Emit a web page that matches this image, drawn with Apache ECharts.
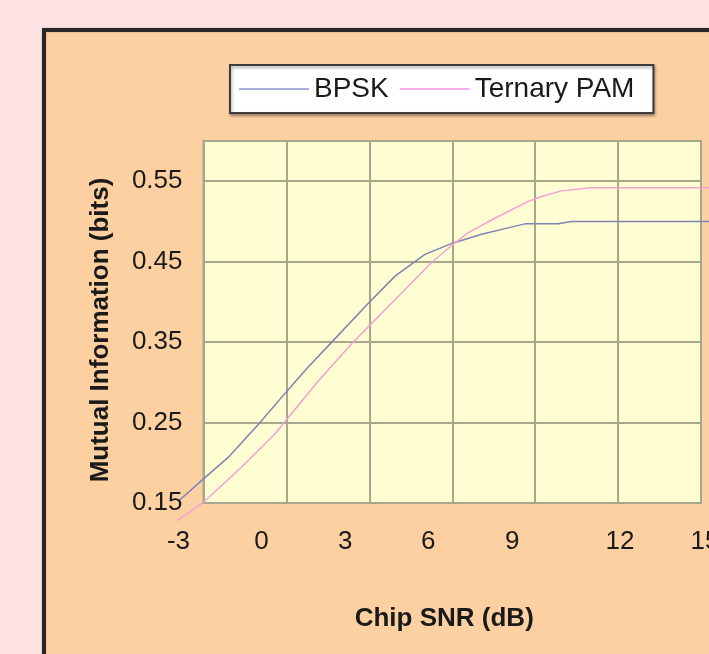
<!DOCTYPE html>
<html>
<head>
<meta charset="utf-8">
<title>Mutual Information vs Chip SNR</title>
<script src="https://cdn.jsdelivr.net/npm/echarts@6/dist/echarts.min.js"></script>
<style>
  html, body { margin: 0; padding: 0; background: #fee1e1; }
  #chart { width: 709px; height: 654px; }
</style>
</head>
<body>
<div id="chart"></div>
<script>
// Chip SNR (dB) axis ticks and mutual information (bits) axis ticks
const snrTicks = [-3, 0, 3, 6, 9, 12, 15];
const miTicks = [0.15, 0.25, 0.35, 0.45, 0.55];

// BPSK curve
const bpskSnr = [-3.85, -3.0, -2.10, -1.01, 0.04, 0.79, 1.64, 2.93, 3.93, 5.01, 6.01, 7.06, 8.02, 8.63, 9.83, 10.31, 12.0, 15.4];
const bpskMi  = [0.154, 0.180, 0.207, 0.248, 0.290, 0.319, 0.350, 0.397, 0.432, 0.459, 0.473, 0.484, 0.492, 0.497, 0.497, 0.500, 0.500, 0.500];

// Ternary PAM curve
const pamSnr = [-3.95, -3.0, -1.61, -0.41, 0.04, 1.16, 2.36, 2.93, 4.17, 5.25, 6.01, 6.58, 7.54, 8.75, 9.23, 9.95, 11.04, 15.4];
const pamMi  = [0.128, 0.151, 0.195, 0.236, 0.255, 0.302, 0.348, 0.368, 0.411, 0.449, 0.471, 0.486, 0.504, 0.525, 0.531, 0.538, 0.542, 0.542];

const seriesNames = ['BPSK', 'Ternary PAM'];

// ---- layout ----
const plot = { left: 203.5, right: 701, top: 141, bottom: 503 };
const xRange = [-3, 15], yRange = [0.15, 0.6];
// the curves run a little past the framed plot area, so they live on an
// unframed twin grid that shares the exact same scale but is wider/taller
const xPad = 2, yPad = 0.05;
const pxPerX = (plot.right - plot.left) / (xRange[1] - xRange[0]);
const pxPerY = (plot.bottom - plot.top) / (yRange[1] - yRange[0]);

// horizontal nudges (px) applied to the x tick labels
const labelNudge = { '-3': -25, '0': -25, '3': -24, '6': -24, '9': -23, '12': 2, '15': 4 };

const FONT = "'Liberation Sans', Arial, sans-serif";
const TEXT = '#1a1a1a';
const GRIDLINE = '#a7a78c';
const TICK_SIZE = 26;

const pairs = (xs, ys) => xs.map((x, i) => [x, ys[i]]);

const richLabels = {};
Object.keys(labelNudge).forEach((k, i) => {
  const s = labelNudge[k];
  richLabels['n' + i] = {
    fontFamily: FONT, fontSize: TICK_SIZE, color: TEXT,
    padding: s < 0 ? [0, -2 * s, 0, 0] : [0, 0, 0, 2 * s]
  };
});

const chart = echarts.init(document.getElementById('chart'), null, { renderer: 'canvas' });

chart.setOption({
  backgroundColor: '#fee1e1',
  animation: false,
  graphic: [{
    type: 'rect',
    z: -10,
    silent: true,
    shape: { x: 44, y: 30, width: 720, height: 700 },
    style: {
      fill: '#fdd0a2',
      stroke: '#262626',
      lineWidth: 4,
      shadowColor: 'rgba(0,0,0,0.25)',
      shadowBlur: 2
    }
  }],
  legend: {
    data: [
      { name: seriesNames[0], itemStyle: { color: '#a9aedb' } },
      { name: seriesNames[1], itemStyle: { color: '#fbaaec' } }
    ],
    left: 230,
    top: 65,
    orient: 'horizontal',
    icon: 'rect',
    backgroundColor: '#ffffff',
    borderColor: '#3c3c3c',
    borderWidth: 2,
    borderRadius: 0,
    shadowColor: 'rgba(0,0,0,0.35)',
    shadowBlur: 3,
    shadowOffsetX: 1,
    shadowOffsetY: 2,
    padding: [10, 19, 10, 9],
    itemWidth: 70,
    itemHeight: 2,
    itemGap: 11,
    textStyle: { fontFamily: FONT, fontSize: 28, color: TEXT }
  },
  grid: [
    {
      left: plot.left,
      top: plot.top,
      width: plot.right - plot.left,
      height: plot.bottom - plot.top,
      outerBoundsMode: 'none',
      show: true,
      backgroundColor: '#fefed2',
      borderColor: GRIDLINE,
      borderWidth: 2
    },
    {
      left: plot.left - xPad * pxPerX,
      top: plot.top - yPad * pxPerY,
      width: (xRange[1] - xRange[0] + 2 * xPad) * pxPerX,
      height: (yRange[1] - yRange[0] + 2 * yPad) * pxPerY,
      outerBoundsMode: 'none',
      show: false
    }
  ],
  xAxis: [
    {
      gridIndex: 0,
      type: 'value',
      min: xRange[0],
      max: xRange[1],
      interval: 3,
      name: 'Chip SNR (dB)',
      nameLocation: 'middle',
      nameGap: 103,
      nameTextStyle: { fontFamily: FONT, fontSize: 26, fontWeight: 'bold', color: TEXT, padding: [0, 16, 0, 0] },
      axisLine: { show: false },
      axisTick: { show: false },
      splitLine: { show: true, lineStyle: { color: GRIDLINE, width: 2 } },
      axisLabel: {
        margin: 26,
        fontFamily: FONT,
        fontSize: TICK_SIZE,
        color: TEXT,
        formatter: function (v) {
          const key = String(Math.round(v));
          const idx = Object.keys(labelNudge).indexOf(key);
          if (idx < 0 || snrTicks.indexOf(Math.round(v)) < 0) return '';
          return '{n' + idx + '|' + key + '}';
        },
        rich: richLabels
      }
    },
    {
      gridIndex: 1,
      type: 'value',
      min: xRange[0] - xPad,
      max: xRange[1] + xPad,
      show: false,
      splitLine: { show: false }
    }
  ],
  yAxis: [
    {
      gridIndex: 0,
      type: 'value',
      min: yRange[0],
      max: yRange[1],
      interval: 0.1,
      name: 'Mutual Information (bits)',
      nameLocation: 'middle',
      nameRotate: 90,
      nameGap: 90,
      nameTextStyle: { fontFamily: FONT, fontSize: 26, fontWeight: 'bold', color: TEXT, padding: [0, 16, 0, 0] },
      axisLine: { show: false },
      axisTick: { show: false },
      splitLine: { show: true, lineStyle: { color: GRIDLINE, width: 2 } },
      axisLabel: {
        margin: 21,
        fontFamily: FONT,
        fontSize: TICK_SIZE,
        color: TEXT,
        showMaxLabel: false,
        formatter: function (v) {
          const hit = miTicks.find(t => Math.abs(t - v) < 1e-6);
          return hit === undefined ? '' : hit.toFixed(2);
        }
      }
    },
    {
      gridIndex: 1,
      type: 'value',
      min: yRange[0] - yPad,
      max: yRange[1] + yPad,
      show: false,
      splitLine: { show: false }
    }
  ],
  series: [
    {
      name: seriesNames[0],
      type: 'line',
      xAxisIndex: 1,
      yAxisIndex: 1,
      data: pairs(bpskSnr, bpskMi),
      symbol: 'none',
      clip: false,
      smooth: false,
      color: '#7d83b2',
      lineStyle: { color: '#7d83b2', width: 1.5 }
    },
    {
      name: seriesNames[1],
      type: 'line',
      xAxisIndex: 1,
      yAxisIndex: 1,
      data: pairs(pamSnr, pamMi),
      symbol: 'none',
      clip: false,
      smooth: false,
      color: '#f59fd4',
      lineStyle: { color: '#f59fd4', width: 1.5 }
    }
  ]
});
</script>
</body>
</html>
